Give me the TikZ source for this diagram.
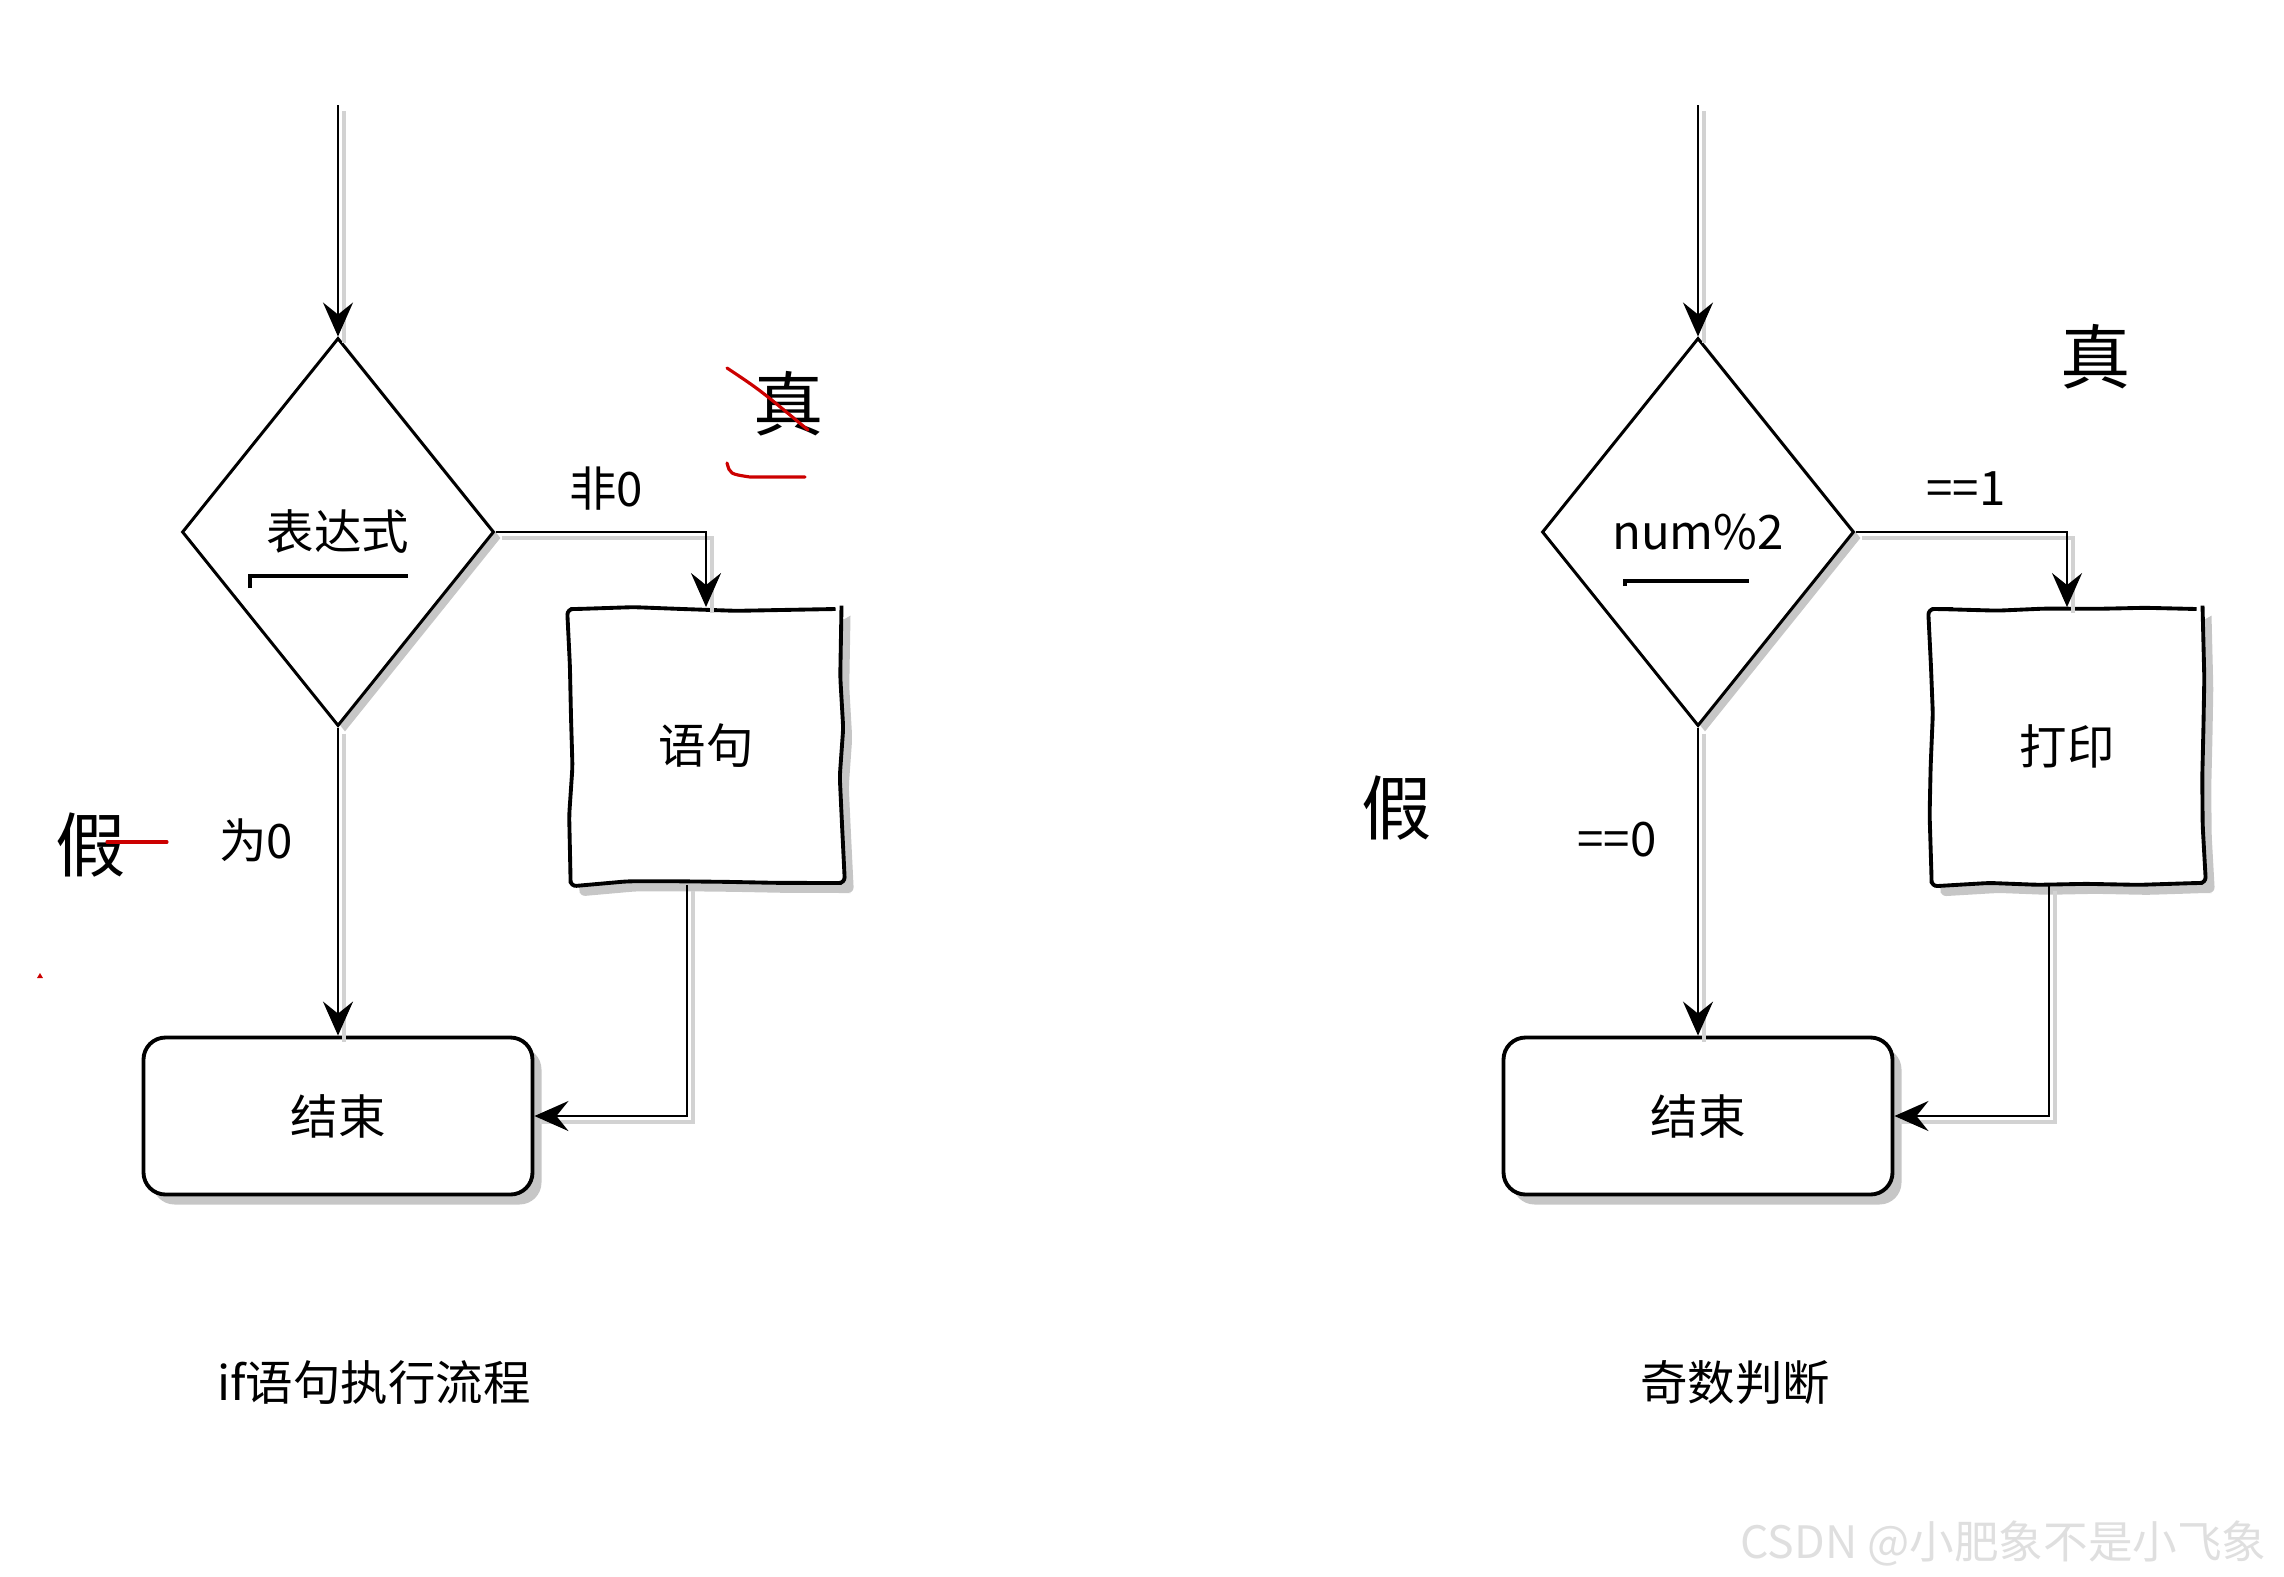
\documentclass[tikz,border=0pt]{standalone}
\usepackage{fontspec}
\setmainfont{Noto Sans CJK SC}
\usetikzlibrary{shapes}
\usetikzlibrary{shapes.geometric}
\usetikzlibrary{arrows.meta}
\usetikzlibrary{decorations.pathmorphing}
\usetikzlibrary{shadows}
\usetikzlibrary{positioning}
\usetikzlibrary{calc}

\begin{document}
\begin{tikzpicture}[
	font=\fontsize{13.5}{16}\selectfont]

\pgfmathsetseed{12}

\tikzstyle{sketchy}=[decorate, decoration={random steps, segment length=5mm, amplitude=0.2mm}]
\tikzstyle{decision}=[diamond, draw, line width=0.85pt, inner sep=0pt,
	minimum width=3.12cm, minimum height=3.88cm, fill=white,
	drop shadow={shadow xshift=0.07cm, shadow yshift=-0.06cm, fill=gray!45, opacity=1}]
\tikzstyle{process}=[rectangle, draw, line width=1.1pt, sketchy, rounded corners=0.6mm,
	minimum width=2.71cm, minimum height=2.74cm, fill=white,
	drop shadow={shadow xshift=0.09cm, shadow yshift=-0.1cm, fill=gray!45, opacity=1}]
\tikzstyle{terminal}=[rectangle, draw, line width=1.1pt, rounded corners=2.2mm,
	minimum width=3.89cm, minimum height=1.57cm, fill=white,
	drop shadow={shadow xshift=0.09cm, shadow yshift=-0.1cm, fill=gray!45, opacity=1}]
\tikzstyle{flow}=[line width=0.65pt, -{Stealth[length=3.4mm, width=3mm, inset=1.2mm]},
	preaction={draw=gray!35, line width=0.9pt, -, transform canvas={xshift=0.6mm, yshift=-0.6mm}}]
\tikzstyle{tag}=[inner sep=0pt]
\tikzstyle{verdict}=[inner sep=0pt, font=\fontsize{20}{22}\selectfont]
\tikzstyle{scribble}=[draw=red!80!black, line width=0.9pt, line cap=round]

\def\ColA{3.38}
\def\ColB{16.98}
\def\RowTop{-1.05}
\def\RowTest{-5.32}
\def\RowBox{-7.46}
\def\RowStop{-11.16}
\def\RowCaption{-13.83}

\useasboundingbox (0,0) rectangle (22.84,-15.76);

% if statement flow
\coordinate (inA) at (\ColA, \RowTop);
\node (condA) [decision] at (\ColA, \RowTest) {表达式};
\node (stmtA) [process] at (7.06, \RowBox) {语句};
\node (stopA) [terminal] at (\ColA, \RowStop) {结束};

\draw[flow] (inA) -- (condA.north);
\draw[flow] (condA.east) -| (stmtA.north);
\draw[flow] (condA.south) -- (stopA.north);
\draw[flow] ([xshift=-1.9mm]stmtA.south) |- (stopA.east);

\node (nonzero) [tag] at (6.06, -4.89) {非0};
\node (zero) [tag] at (2.56, -8.40) {为0};

% underline below the condition
\draw[line width=1pt] (2.50, -5.88) -- (2.50, -5.76) -- (4.08, -5.76);

% true / false marks
\node (trueA) [verdict] at (7.89, -4.04) {真};
\node (falseA) [verdict] at (0.91, -8.45) {假};

% red pen strokes
\draw[scribble] (7.27, -3.68) .. controls (7.60, -3.90) .. (8.08, -4.30);
\draw[scribble] (7.27, -4.63) .. controls (7.30, -4.74) .. (7.50, -4.77) -- (8.05, -4.77);
\draw[scribble] (1.07, -8.42) -- (1.67, -8.42);
\fill[red!80!black] (0.37, -9.78) -- (0.43, -9.78) -- (0.40, -9.73) -- cycle;

\node (capA) at (3.74, \RowCaption) {if语句执行流程};

% odd number test
\coordinate (inB) at (\ColB, \RowTop);
\node (condB) [decision] at (\ColB, \RowTest) {num\%2};
\node (printB) [process] at (20.67, \RowBox) {打印};
\node (stopB) [terminal] at (\ColB, \RowStop) {结束};

\draw[flow] (inB) -- (condB.north);
\draw[flow] (condB.east) -| (printB.north);
\draw[flow] (condB.south) -- (stopB.north);
\draw[flow] ([xshift=-1.8mm]printB.south) |- (stopB.east);

\node (isone) [tag] at (19.66, -4.89) {==1};
\node (iszero) [tag] at (16.17, -8.40) {==0};

\draw[line width=1pt] (16.25, -5.86) -- (16.25, -5.81) -- (17.49, -5.81);

\node (trueB) [verdict] at (20.96, -3.57) {真};
\node (falseB) [verdict] at (13.97, -8.08) {假};

\node (capB) at (17.35, \RowCaption) {奇数判断};

% watermark
\node (mark) [anchor=east, text=gray!25, font=\fontsize{12.7}{15}\selectfont]
	at (22.79, -15.43) {CSDN @小肥象不是小飞象};

\end{tikzpicture}
\end{document}
